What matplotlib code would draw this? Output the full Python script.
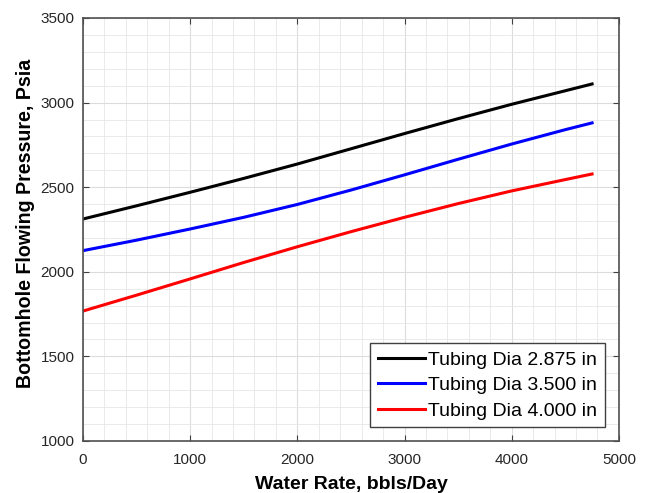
import matplotlib
matplotlib.use("Agg")
import matplotlib.pyplot as plt
from matplotlib.ticker import MultipleLocator

plt.rcParams['font.family'] = ['Liberation Sans', 'DejaVu Sans']

# water rate, bbls/day
rate = [0, 500, 1000, 1500, 2000, 2500, 3000, 3500, 4000, 4500, 4750]
# bottomhole flowing pressure, psia
p_2875 = [2312, 2390, 2470, 2552, 2637, 2727, 2817, 2905, 2990, 3070, 3110]
p_3500 = [2125, 2187, 2253, 2322, 2398, 2483, 2573, 2665, 2755, 2840, 2880]
p_4000 = [1768, 1862, 1958, 2055, 2148, 2237, 2322, 2403, 2478, 2545, 2578]
labels = ['Tubing Dia 2.875 in', 'Tubing Dia 3.500 in', 'Tubing Dia 4.000 in']


def main():
    fig = plt.figure(figsize=(6.46, 4.93), dpi=100)
    ax = fig.add_axes([0.1285, 0.1055, 0.8295, 0.858])

    ax.plot(rate, p_2875, color='black', lw=2.2, label=labels[0])
    ax.plot(rate, p_3500, color='blue', lw=2.2, label=labels[1])
    ax.plot(rate, p_4000, color='red', lw=2.2, label=labels[2])

    ax.set_xlim(0, 5000)
    ax.set_ylim(1000, 3500)
    ax.xaxis.set_major_locator(MultipleLocator(1000))
    ax.xaxis.set_minor_locator(MultipleLocator(200))
    ax.yaxis.set_major_locator(MultipleLocator(500))
    ax.yaxis.set_minor_locator(MultipleLocator(100))
    ax.grid(which='major', color='#dcdcdc', lw=0.8)
    ax.grid(which='minor', color='#e6e6e6', lw=0.6)
    ax.set_axisbelow(True)

    ax.tick_params(which='major', direction='in', length=4, top=True, right=True,
                   labelsize=11, color='#404040', labelcolor='#262626', pad=6)
    ax.tick_params(axis='x', which='major', pad=9)
    ax.tick_params(which='minor', length=0)
    for s in ax.spines.values():
        s.set_color('#505050')
        s.set_linewidth(1.2)

    ax.set_xlabel('Water Rate, bbls/Day', fontsize=14, fontweight='bold', labelpad=6)
    ax.set_ylabel('Bottomhole Flowing Pressure, Psia', fontsize=14.1, fontweight='bold')
    ax.yaxis.set_label_coords(-0.09, 0.515)

    leg = ax.legend(loc='lower right', fontsize=14, handlelength=2.4, handletextpad=0.2,
                    borderpad=0.4, labelspacing=0.4, fancybox=False, framealpha=1,
                    borderaxespad=0.7)
    leg.get_frame().set_edgecolor('#404040')
    leg.get_frame().set_linewidth(1.0)

    fig.savefig('out.png', dpi=100)
    plt.close(fig)


if __name__ == "__main__":
    main()
